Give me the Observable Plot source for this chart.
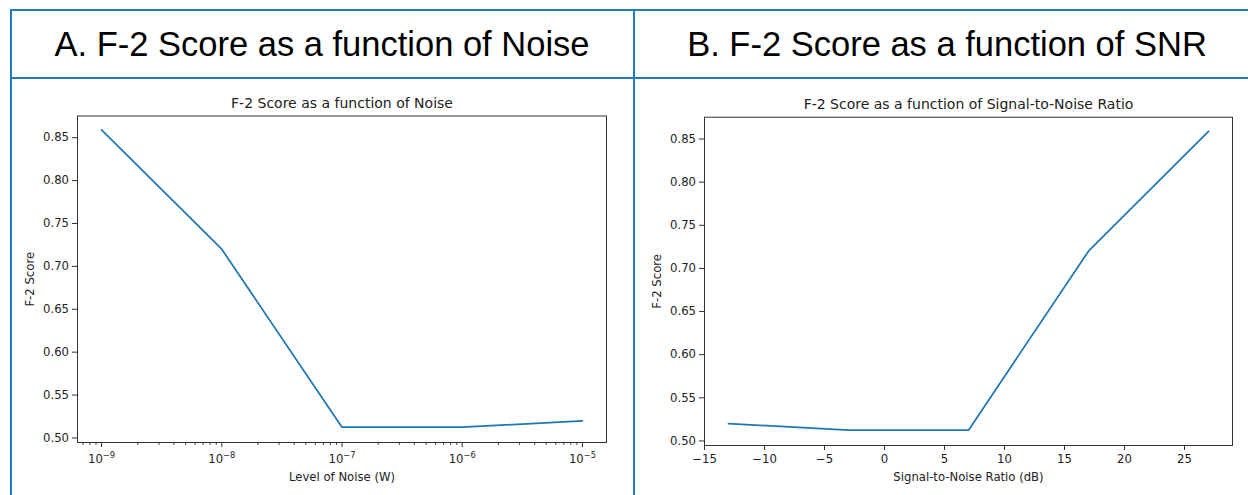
<!DOCTYPE html>
<html><head><meta charset="utf-8">
<script src="https://cdn.jsdelivr.net/npm/d3@7"></script>
<script src="https://cdn.jsdelivr.net/npm/@observablehq/plot@0.6"></script>
<style>
body{margin:0;background:#fff;width:1248px;height:495px;overflow:hidden;position:relative;}
.ln{position:absolute;background:#1f7abf;}
.hdr{position:absolute;top:11px;height:66px;display:flex;align-items:center;justify-content:center;font-family:"Liberation Sans",Arial,sans-serif;font-size:34.5px;color:#000;white-space:nowrap;}
.chart{position:absolute;top:78px;}
</style></head><body>
<div class="hdr" style="left:11px;width:622px">A. F-2 Score as a function of Noise</div>
<div class="hdr" style="left:635px;width:624px">B. F-2 Score as a function of SNR</div>
<div id="a" class="chart" style="left:0px"></div>
<div id="b" class="chart" style="left:634px"></div>
<div class="ln" style="left:10px;top:9px;width:1238px;height:2px"></div>
<div class="ln" style="left:10px;top:77px;width:1238px;height:2px"></div>
<div class="ln" style="left:10px;top:9px;width:2px;height:486px"></div>
<div class="ln" style="left:633px;top:9px;width:2px;height:486px"></div>
<script>
// ---- data ----
const noiseLevels = [1e-9, 1e-8, 1e-7, 1e-6, 1e-5];
const noiseScores = [0.859, 0.720, 0.5125, 0.5125, 0.520];
const snrDb = [-13, -3, 7, 17, 27];
const snrScores = [0.520, 0.5125, 0.5125, 0.720, 0.859];
const yTicks = [0.50, 0.55, 0.60, 0.65, 0.70, 0.75, 0.80, 0.85];
const noiseTicks = [1e-9, 1e-8, 1e-7, 1e-6, 1e-5];
const noiseTickBase = "10";
const noiseTickExponents = ["\u22129", "\u22128", "\u22127", "\u22126", "\u22125"];
const snrTicks = [-15, -10, -5, 0, 5, 10, 15, 20, 25];
const snrTickLabels = ["\u221215", "\u221210", "\u22125", "0", "5", "10", "15", "20", "25"];
const titleA = "F-2 Score as a function of Noise";
const titleB = "F-2 Score as a function of Signal-to-Noise Ratio";
const xLabelA = "Level of Noise (W)";
const xLabelB = "Signal-to-Noise Ratio (dB)";
const yLabel = "F-2 Score";

const lineColor = "#1f77b4";
const ink = "#222";
const style = {fontFamily: "'DejaVu Sans', sans-serif", fontSize: "11.67px", color: ink, background: "transparent", overflow: "visible"};
const yDomain = [0.4947, 0.8753];

// minor log ticks 2..9 x 10^k inside domain
const xDomainA = [Math.pow(10, -9.2), Math.pow(10, -4.8)];
const minorTicks = [];
for (let k = -10; k <= -5; k++) for (let m = 2; m <= 9; m++) {
  const v = m * Math.pow(10, k);
  if (v >= xDomainA[0] && v <= xDomainA[1]) minorTicks.push(v);
}

const dataA = noiseLevels.map((x, i) => ({x, y: noiseScores[i]}));
const dataB = snrDb.map((x, i) => ({x, y: snrScores[i]}));

function yAxis() {
  return Plot.axisY({ticks: yTicks, tickFormat: d3.format(".2f"), tickSize: 5, tickPadding: 3.5,
    stroke: "#333", fill: ink, label: yLabel, labelAnchor: "center", labelArrow: "none", labelOffset: 52});
}

const chartA = Plot.plot({
  width: 634, height: 417,
  marginLeft: 77, marginRight: 28, marginTop: 37.5, marginBottom: 53,
  style,
  x: {type: "log", domain: xDomainA},
  y: {domain: yDomain},
  marks: [
    Plot.axisX({ticks: minorTicks, tickSize: 2.8, tickFormat: () => "", label: null, stroke: "#333"}),
    Plot.axisX({ticks: noiseTicks, tickSize: 5, tickPadding: 7.5,
      tickFormat: d => noiseTickBase + "^" + noiseTickExponents[noiseTicks.indexOf(d)], stroke: "#333", fill: ink,
      label: xLabelA, labelAnchor: "center", labelArrow: "none", labelOffset: 38}),
    yAxis(),
    Plot.line(dataA, {x: "x", y: "y", stroke: lineColor, strokeWidth: 1.75}),
    Plot.frame({stroke: "#333", strokeWidth: 1}),
    Plot.text([titleA], {frameAnchor: "top", dy: -18, fontSize: 14, fill: ink})
  ]
});
// render "10^-9" as 10 with a raised exponent (like matplotlib mathtext)
chartA.querySelectorAll("text").forEach(t => {
  const s = t.textContent;
  if (!s.includes("^")) return;
  const [base, exp] = s.split("^");
  while (t.firstChild) t.removeChild(t.firstChild);
  const ns = "http://www.w3.org/2000/svg";
  const b = document.createElementNS(ns, "tspan");
  b.textContent = base;
  const e = document.createElementNS(ns, "tspan");
  e.textContent = exp;
  e.setAttribute("font-size", "8.3px");
  e.setAttribute("dy", "-5");
  t.appendChild(b); t.appendChild(e);
});
document.getElementById("a").appendChild(chartA);

const chartB = Plot.plot({
  width: 614, height: 417,
  marginLeft: 70, marginRight: 16, marginTop: 38.7, marginBottom: 50,
  style,
  x: {domain: [-15, 29]},
  y: {domain: yDomain},
  marks: [
    Plot.axisX({ticks: snrTicks, tickSize: 5, tickPadding: 4.5,
      tickFormat: d => snrTickLabels[snrTicks.indexOf(d)], stroke: "#333", fill: ink,
      label: xLabelB, labelAnchor: "center", labelArrow: "none", labelOffset: 35}),
    yAxis(),
    Plot.line(dataB, {x: "x", y: "y", stroke: lineColor, strokeWidth: 1.75}),
    Plot.frame({stroke: "#333", strokeWidth: 1}),
    Plot.text([titleB], {frameAnchor: "top", dy: -18, fontSize: 14, fill: ink})
  ]
});
document.getElementById("b").appendChild(chartB);
</script>
</body></html>
